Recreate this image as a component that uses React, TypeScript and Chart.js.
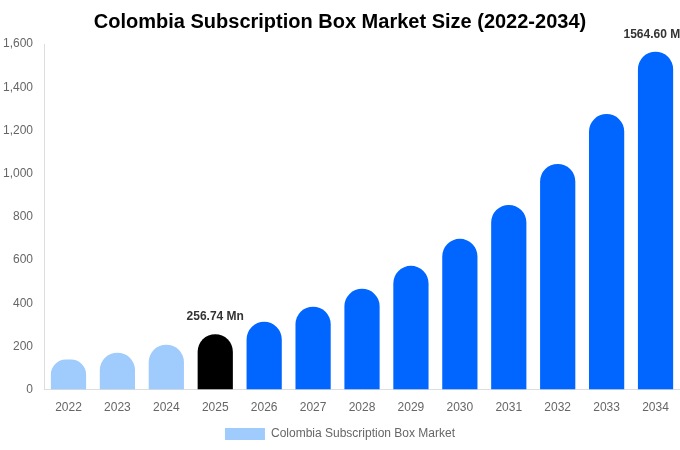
import React, { useEffect, useRef } from "react";
import Chart from "chart.js/auto";

const years = ["2022", "2023", "2024", "2025", "2026", "2027", "2028", "2029", "2030", "2031", "2032", "2033", "2034"];
const marketSize = [139, 171, 208, 256.74, 314, 384, 467, 573, 698, 855, 1045, 1276, 1564.6];
// which bars get a value label on top
const labelledYears = ["2025", "2034"];

const LIGHT = "#a0cbfd";
const DARK = "#000000";
const BLUE = "#0066ff";
const FONT = "'Liberation Sans', Arial, sans-serif";

const barColor = (i: number | undefined) => {
  if (i === undefined) return LIGHT;
  if (i < 3) return LIGHT;
  if (i === 3) return DARK;
  return BLUE;
};

const valueLabels = {
  id: "valueLabels",
  afterDatasetsDraw(chart: Chart) {
    const ctx = chart.ctx;
    const meta = chart.getDatasetMeta(0);
    ctx.save();
    ctx.font = `bold 12px ${FONT}`;
    ctx.fillStyle = "#333333";
    ctx.textAlign = "center";
    ctx.textBaseline = "middle";
    meta.data.forEach((bar, i) => {
      if (!labelledYears.includes(years[i])) return;
      const v = marketSize[i];
      ctx.fillText(`${v.toFixed(2)} Mn`, bar.x, bar.y - 17);
    });
    ctx.restore();
  },
};

const App = () => {
  const canvasRef = useRef<HTMLCanvasElement>(null);
  const chartRef = useRef<Chart | null>(null);

  useEffect(() => {
    document.body.style.margin = "0";
    if (!canvasRef.current) return;
    const ctx = canvasRef.current.getContext("2d");
    if (!ctx) return;

    if (chartRef.current) chartRef.current.destroy();

    chartRef.current = new Chart(ctx, {
      type: "bar",
      data: {
        labels: years,
        datasets: [
          {
            label: "Colombia Subscription Box Market",
            data: marketSize,
            // eslint-disable-next-line @typescript-eslint/no-explicit-any
            backgroundColor: (c: any) => barColor(c.dataIndex),
            borderRadius: { topLeft: 40, topRight: 40, bottomLeft: 0, bottomRight: 0 },
            borderSkipped: false,
          },
        ],
      },
      options: {
        animation: false,
        responsive: true,
        maintainAspectRatio: false,
        layout: { padding: 0 },
        plugins: {
          title: {
            display: true,
            text: "Colombia Subscription Box Market Size (2022-2034)",
            color: "#000000",
            font: { family: FONT, size: 20, weight: "bold" },
            padding: { top: 10, bottom: 10 },
          },
          legend: {
            position: "bottom",
            labels: {
              color: "#666666",
              font: { family: FONT, size: 12 },
              boxWidth: 40,
              boxHeight: 12,
            },
          },
          tooltip: { enabled: false },
        },
        scales: {
          x: {
            grid: { display: false },
            border: { display: true, color: "#dddddd" },
            ticks: { color: "#666666", font: { family: FONT, size: 12 }, padding: 3 },
          },
          y: {
            min: 0,
            max: 1600,
            grid: { display: false },
            border: { display: true, color: "#dddddd" },
            ticks: {
              stepSize: 200,
              color: "#666666",
              font: { family: FONT, size: 12 },
              padding: 3,
              callback: (v) => Number(v).toLocaleString("en-US"),
            },
          },
        },
      },
      plugins: [valueLabels],
    });

    return () => {
      if (chartRef.current) chartRef.current.destroy();
    };
  }, []);

  return (
    <div style={{ width: "680px", height: "450px", position: "relative" }}>
      <canvas ref={canvasRef} />
    </div>
  );
};

export default App;
